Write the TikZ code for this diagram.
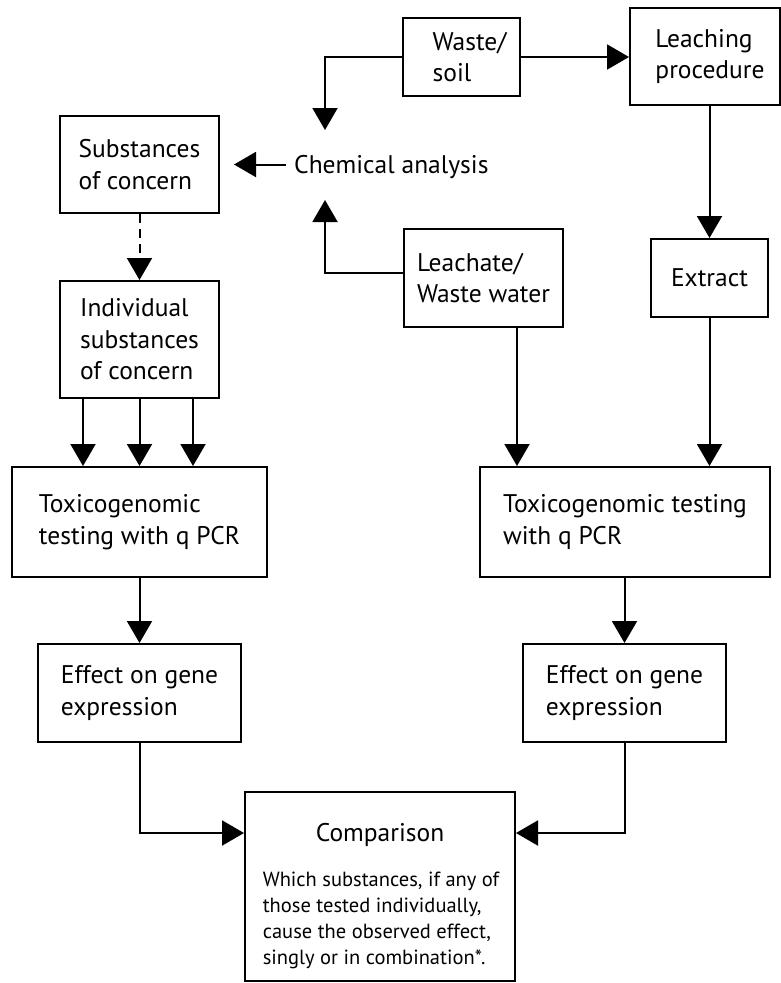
\documentclass[tikz,border=0pt]{standalone}
\usepackage{fontspec}
\setmainfont{PT Sans}
\usetikzlibrary{arrows.meta,calc}
\begin{document}
\begin{tikzpicture}[x=1pt,y=-1pt,
  box/.style={draw, line width=2pt, align=left, inner sep=0pt, font=\fontsize{25.5}{31.5}\selectfont},
  arr/.style={line width=2pt, -{Triangle[length=22pt,width=25pt]}},
  dashedarr/.style={arr, dash pattern=on 9pt off 6pt}]
\useasboundingbox (0,0) rectangle (781,983);
% boxes
\node[box, minimum width=159pt, minimum height=97pt] (subst) at (139.5,164.5) {Substances\\of concern};
\node[box, minimum width=117pt, minimum height=78pt] (waste) at (461.5,57) {\hspace*{16pt}Waste/\\\hspace*{16pt}soil};
\node[box, minimum width=150pt, minimum height=97pt] (leach) at (705,56.5) {\hspace*{10pt}Leaching\\\hspace*{10pt}procedure};
\node[box, minimum width=159pt, minimum height=117pt] (indiv) at (139.5,339.5) {Individual\\substances\\of concern};
\node[box, minimum width=159pt, minimum height=98pt] (leachate) at (483.5,278) {Leachate/\\Waste water};
\node[box, minimum width=117pt, minimum height=78pt] (extract) at (709.5,278) {Extract};
\node[box, minimum width=255pt, minimum height=110pt] (toxL) at (139.5,522) {Toxicogenomic\\testing with q PCR};
\node[box, minimum width=290pt, minimum height=110pt] (toxR) at (625,522) {Toxicogenomic testing\\with q PCR};
\node[box, minimum width=203pt, minimum height=98pt] (effL) at (139.5,693) {Effect on gene\\expression};
\node[box, minimum width=203pt, minimum height=98pt] (effR) at (624.5,693) {Effect on gene\\expression};
\node[box, minimum width=270pt, minimum height=189pt] (comp) at (380,886.5) {};
\node[anchor=base, inner sep=0pt, font=\fontsize{25.5}{28}\selectfont] (compT) at (380,841) {Comparison};
\node[anchor=base, inner sep=0pt, align=left, font=\fontsize{20.5}{25.7}\selectfont] (compD) at (381,964)
  {Which substances, if any of\\those tested individually,\\cause the observed effect,\\singly or in combination*.};
% chemical analysis
\node[anchor=base west, inner sep=0pt, font=\fontsize{25.5}{28}\selectfont] (chem) at (294,173) {Chemical analysis};
\coordinate (chemtop) at (325,130);
\coordinate (chembot) at (325,200);
% connectors
\draw[arr] (waste.west) -| (chemtop);
\draw[arr] ([yshift=5pt]leachate.west) -| (chembot);
\draw[arr] ([xshift=-8pt]chem.west |- subst.east) -- ([xshift=14pt]subst.east);
\draw[arr] (waste.east) -- (leach.west |- waste.east);
\draw[arr] (leach.south -| extract.north) -- (extract.north);
\draw[dashedarr] (subst.south) -- (indiv.north);
\foreach \x in {83,139.5,193} \draw[arr] (indiv.south -| \x,0) -- (toxL.north -| \x,0);
\draw[arr] (leachate.south -| 517,0) -- (toxR.north -| 517,0);
\draw[arr] (extract.south) -- (extract.south |- toxR.north);
\draw[arr] (toxL.south) -- (effL.north);
\draw[arr] (toxR.south -| effR.north) -- (effR.north);
\draw[arr] (effL.south) |- ([yshift=53.5pt]comp.west);
\draw[arr] (effR.south) |- ([yshift=53.5pt]comp.east);
\end{tikzpicture}
\end{document}
